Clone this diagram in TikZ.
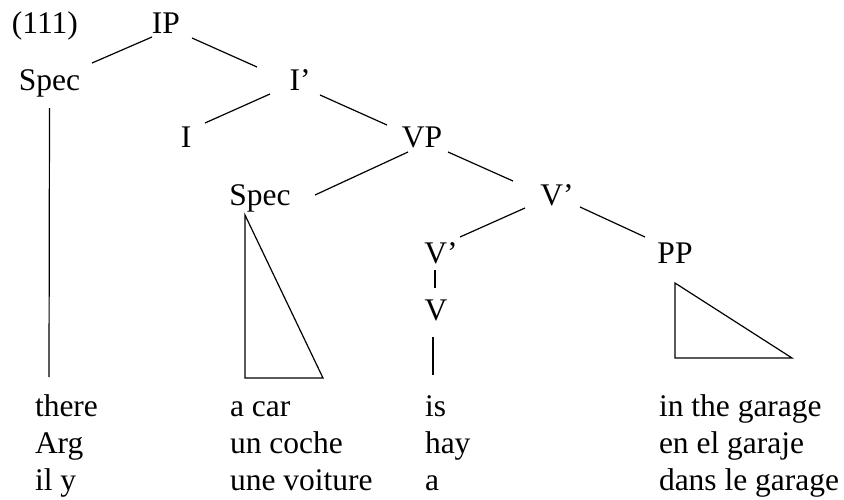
\documentclass[tikz,border=0pt]{standalone}
\usepackage{fontspec}
\setmainfont{Liberation Serif}
\begin{document}
\begin{tikzpicture}[x=1pt,y=-1pt,
  lbl/.style={inner sep=0pt,outer sep=0pt,anchor=base,font=\fontsize{31.5}{36}\selectfont},
  word/.style={inner sep=0pt,outer sep=0pt,anchor=base west,font=\fontsize{31.5}{36}\selectfont},
  branch/.style={line width=1.2pt,line cap=butt},
  tri/.style={line width=1.2pt,line join=miter}]
\useasboundingbox (0,0) rectangle (844,499);
% tree labels
\node[word] (num) at (12,33) {(111)};
\node[lbl] (IP) at (166,33) {IP};
\node[lbl] (Spec1) at (49.5,90) {Spec};
\node[lbl] (Ib) at (300,90) {I’};
\node[lbl] (I) at (186,147) {I};
\node[lbl] (VP) at (422,147) {VP};
\node[lbl] (Spec2) at (260,205) {Spec};
\node[lbl] (Vb1) at (557,205) {V’};
\node[lbl] (Vb2) at (441,263) {V’};
\node[lbl] (PP) at (675,263) {PP};
\node[lbl] (V) at (436,320) {V};
% bottom words
\node[word] (there) at (35,416) {there};
\node[word] (Arg) at (35,453) {Arg};
\node[word] (ily) at (35,490) {il y};
\node[word] (acar) at (230,416) {a car};
\node[word] (uncoche) at (230,453) {un coche};
\node[word] (unevoiture) at (230,490) {une voiture};
\node[word] (is) at (425,416) {is};
\node[word] (hay) at (425,453) {hay};
\node[word] (a) at (425,490) {a};
\node[word] (inthe) at (659,416) {in the garage};
\node[word] (enel) at (659,453) {en el garaje};
\node[word] (dans) at (659,490) {dans le garage};
% branches
\draw[branch] ([shift={(-14,4)}]IP.base) -- ([shift={(42.5,-27)}]Spec1.base);
\draw[branch] ([shift={(26,5)}]IP.base) -- ([shift={(-43,-23)}]Ib.base);
\draw[branch] ([shift={(-30,4)}]Ib.base) -- ([shift={(19,-24)}]I.base);
\draw[branch] ([shift={(20,5)}]Ib.base) -- ([shift={(-35,-22)}]VP.base);
\draw[branch] ([shift={(-14,5)}]VP.base) -- ([shift={(55,-10)}]Spec2.base);
\draw[branch] ([shift={(26,5)}]VP.base) -- ([shift={(-44,-24)}]Vb1.base);
\draw[branch] ([shift={(-32,3)}]Vb1.base) -- ([shift={(19,-26)}]Vb2.base);
\draw[branch] ([shift={(23,2)}]Vb1.base) -- ([shift={(-30,-26)}]PP.base);
\draw[branch] ([shift={(-6,7)}]Vb2.base) -- ([shift={(-1,-32)}]V.base);
\draw[branch] ([shift={(-3,17)}]V.base) -- ([shift={(8,-41)}]is.base west);
\draw[branch] ([shift={(0,18)}]Spec1.base) -- ([shift={(14,-39)}]there.base west);
% triangles
\draw[tri] ([shift={(-15,10)}]Spec2.base) -- ([shift={(15,-38)}]acar.base west) -- ([shift={(93,-38)}]acar.base west) -- cycle;
\draw[tri] ([shift={(0,20)}]PP.base) -- ([shift={(0,95)}]PP.base) -- ([shift={(117,95)}]PP.base) -- cycle;
\end{tikzpicture}
\end{document}
